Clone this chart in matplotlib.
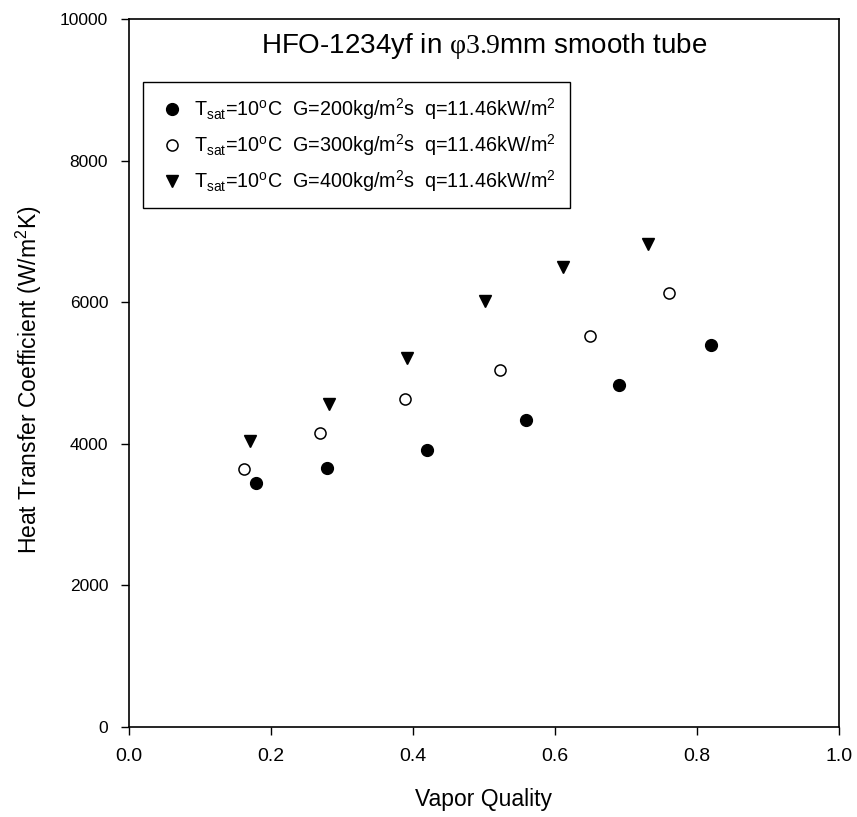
import matplotlib
matplotlib.use('Agg')
import matplotlib.pyplot as plt

plt.rcParams['mathtext.fontset'] = 'custom'
plt.rcParams['mathtext.rm'] = 'Liberation Serif'
plt.rcParams['mathtext.sf'] = 'Liberation Sans'
plt.rcParams['font.family'] = ['Liberation Sans', 'DejaVu Sans']

# data
x_g200 = [0.179, 0.279, 0.420, 0.559, 0.690, 0.820]
h_g200 = [3440, 3660, 3910, 4335, 4830, 5395]

x_g300 = [0.162, 0.269, 0.389, 0.523, 0.649, 0.760]
h_g300 = [3645, 4150, 4630, 5040, 5520, 6130]

x_g400 = [0.170, 0.282, 0.392, 0.501, 0.611, 0.731]
h_g400 = [4040, 4560, 5210, 6015, 6495, 6820]

labels = [r'T$_{\mathsf{sat}}$=10$^{\mathsf{o}}$C  G=200kg/m$^{\mathsf{2}}$s  q=11.46kW/m$^{\mathsf{2}}$',
          r'T$_{\mathsf{sat}}$=10$^{\mathsf{o}}$C  G=300kg/m$^{\mathsf{2}}$s  q=11.46kW/m$^{\mathsf{2}}$',
          r'T$_{\mathsf{sat}}$=10$^{\mathsf{o}}$C  G=400kg/m$^{\mathsf{2}}$s  q=11.46kW/m$^{\mathsf{2}}$']
title = 'HFO-1234yf in $\\mathrm{\u03c63.9}$mm smooth tube'

xticks = [0.0, 0.2, 0.4, 0.6, 0.8, 1.0]
yticks = [0, 2000, 4000, 6000, 8000, 10000]

fig = plt.figure(figsize=(8.57, 8.17), dpi=100)
ax = fig.add_axes([0.1505, 0.1102, 0.8285, 0.8665])

ax.plot(x_g200, h_g200, 'o', color='black', ms=8.5, ls='none', label=labels[0])
ax.plot(x_g300, h_g300, 'o', mfc='white', mec='black', mew=1.1, ms=8, ls='none', label=labels[1])
ax.plot(x_g400, h_g400, 'v', color='black', ms=9, ls='none', label=labels[2])

ax.set_xlim(0, 1.0)
ax.set_ylim(0, 10000)
ax.set_xticks(xticks)
ax.set_yticks(yticks)
ax.set_xticklabels(['%.1f' % v for v in xticks], fontsize=14)
ax.set_yticklabels([str(v) for v in yticks], fontsize=12.5)
ax.tick_params(direction='out', length=6, width=1, color='black')
ax.tick_params(axis='x', pad=9)
ax.tick_params(axis='y', pad=9)
for s in ax.spines.values():
    s.set_linewidth(1.2)

ax.set_xlabel('Vapor Quality', fontsize=16.5)
ax.xaxis.set_label_coords(0.5, -0.086)
ax.set_ylabel(r'Heat Transfer Coefficient (W/m$^{\mathsf{2}}$K)', fontsize=16.5)
ax.yaxis.set_label_coords(-0.12, 0.49)

ax.text(0.5, 0.983, title, transform=ax.transAxes, ha='center', va='top', fontsize=20)

leg = ax.legend(loc='upper left', bbox_to_anchor=(0.0197, 0.911), fontsize=14.2,
                frameon=True, fancybox=False, edgecolor='black', framealpha=1,
                handlelength=1.5, handletextpad=0.35, borderpad=0.72, labelspacing=0.5,
                borderaxespad=0)
leg.get_frame().set_linewidth(1.0)

fig.savefig('out.png', dpi=100)
